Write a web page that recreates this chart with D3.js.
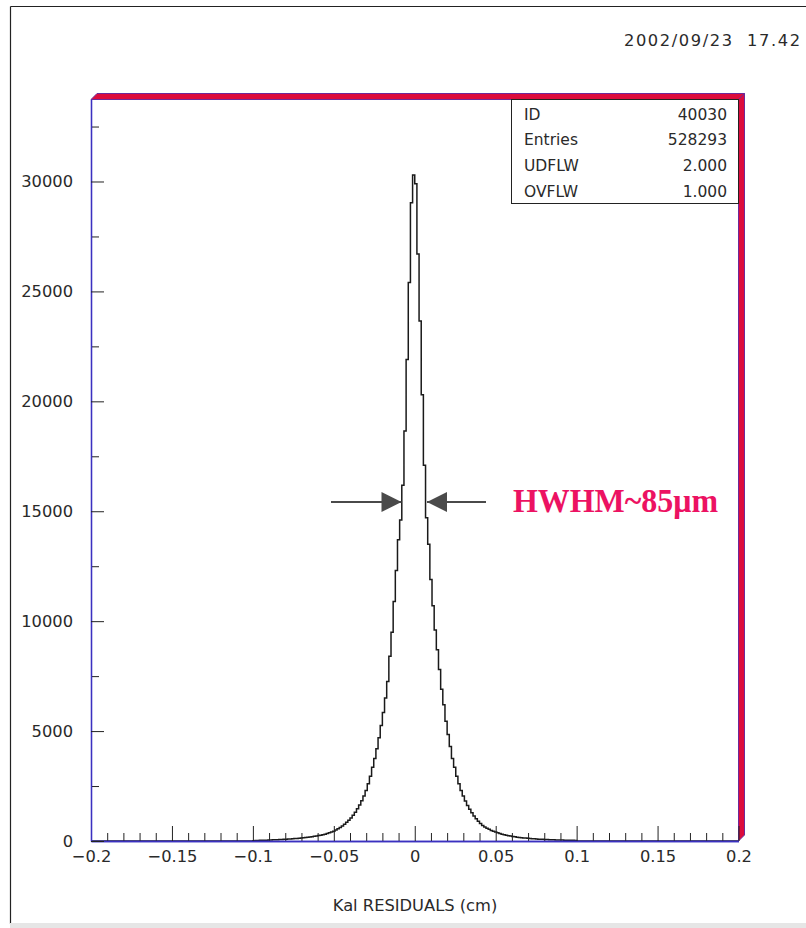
<!DOCTYPE html>
<html>
<head>
<meta charset="utf-8">
<script src="https://cdn.jsdelivr.net/npm/d3@7"></script>
<style>
  html, body { margin: 0; padding: 0; background: #fff; }
  svg { display: block; }
  .lbl { font-family: "DejaVu Sans", "Liberation Sans", sans-serif; fill: #2a2a2a; }
</style>
</head>
<body>
<svg id="chart" width="806" height="928"></svg>
<script>
// Histogram 40030: Kalman-fit residuals, 300 bins over [-0.2, 0.2] cm.
// Counts below are the filled bins from -0.1 to +0.1 cm; the rest are empty.
const xDomain = [-0.2, 0.2];
const binWidth = 0.4 / 300;
const firstEdge = -0.1;

// bins left of zero, from -0.1 cm up to 0
const countsLeft = [
  16, 21, 23, 29, 31, 37, 39, 45, 47, 53, 55, 61, 64, 71, 75,
  83, 87, 96, 101, 111, 117, 126, 139, 148, 162, 171, 186, 197, 213, 227,
  247, 265, 289, 311, 342, 373, 412, 446, 498, 552, 610, 680, 760, 850, 940,
  1050, 1170, 1310, 1470, 1640, 1830, 2050, 2300, 2600, 2950, 3350, 3750, 4200, 4700, 5250,
  5850, 6500, 7250, 8400, 9500, 10900, 12300, 13700, 14600, 16180, 18650, 21900, 25400, 29030, 30300
];
// bins right of zero, from 0 up to +0.1 cm
const countsRight = [
  29900, 26700, 23650, 20300, 17090, 14700, 13500, 11900, 10700, 9600, 8700, 7800, 6900, 6200, 5450,
  4850, 4300, 3750, 3350, 2950, 2600, 2300, 2050, 1820, 1620, 1440, 1280, 1140, 1010, 900,
  800, 710, 640, 580, 530, 480, 440, 405, 370, 340, 310, 285, 262, 240, 222,
  205, 190, 176, 163, 152, 141, 131, 122, 113, 105, 98, 91, 85, 79, 74,
  69, 64, 60, 56, 52, 49, 46, 43, 40, 37, 35, 33, 31, 29, 27
];

const xMajorTicks = [-0.2, -0.15, -0.1, -0.05, 0, 0.05, 0.1, 0.15, 0.2];
const xTickLabels = ["\u22120.2", "\u22120.15", "\u22120.1", "\u22120.05", "0", "0.05", "0.1", "0.15", "0.2"];
const yMajorTicks = [0, 5000, 10000, 15000, 20000, 25000, 30000];
const yTickLabels = ["0", "5000", "10000", "15000", "20000", "25000", "30000"];
const yMax = 33730;

const statLabels = ["ID", "Entries", "UDFLW", "OVFLW"];
const statValues = ["40030", "528293", "2.000", "1.000"];

const dateText = "2002/09/23  17.42";
const xTitle = "Kal RESIDUALS (cm)";
const noteText = "HWHM~85\u03bcm";
const hwhm = 0.0085;   // cm

const svg = d3.select("#chart");
const fontSize = 16.3;

// page frame
svg.append("line").attr("x1", 10.5).attr("x2", 806).attr("y1", 6.5).attr("y2", 6.5)
  .attr("stroke", "#222").attr("stroke-width", 1.2);
svg.append("line").attr("x1", 10.5).attr("x2", 10.5).attr("y1", 6.5).attr("y2", 924)
  .attr("stroke", "#222").attr("stroke-width", 1.2);
svg.append("rect").attr("x", 10).attr("y", 923).attr("width", 796).attr("height", 5)
  .attr("fill", "#e6e6e6");

const x = d3.scaleLinear().domain(xDomain).range([91, 738.5]);
const y = d3.scaleLinear().domain([0, yMax]).range([841, 99.5]);

// histogram outline
const counts = countsLeft.concat(countsRight);
const pts = [[xDomain[0], 0]];
counts.forEach((c, i) => pts.push([firstEdge + i * binWidth, c]));
pts.push([firstEdge + counts.length * binWidth, 0]);
pts.push([xDomain[1], 0]);
const line = d3.line().x(d => x(d[0])).y(d => y(d[1])).curve(d3.curveStepAfter);
svg.append("path").attr("d", line(pts)).attr("fill", "none")
  .attr("stroke", "#1a1a1a").attr("stroke-width", 1.5);

// 3D frame faces: top and right
const depth = 6;
const fx0 = x(xDomain[0]), fx1 = x(xDomain[1]), fy0 = y(yMax), fy1 = y(0);
svg.append("polygon")
  .attr("points", [[fx0, fy0], [fx0 + depth, fy0 - depth], [fx1 + depth, fy0 - depth], [fx1, fy0]].join(" "))
  .attr("fill", "#dc0b3c").attr("stroke", "#6b2a9a").attr("stroke-width", 1);
svg.append("polygon")
  .attr("points", [[fx1, fy0], [fx1 + depth, fy0 - depth], [fx1 + depth, fy1 - depth], [fx1, fy1]].join(" "))
  .attr("fill", "#dc0b3c").attr("stroke", "#6b2a9a").attr("stroke-width", 1);

// axes
const axisColor = "#3b30c0";
const xMinor = d3.range(-20, 21).map(i => i / 100).filter(v => Math.abs(Math.round(v * 20) - v * 20) > 1e-6);
const yMinor = d3.range(1, 14, 2).map(i => i * 2500);

const gxMinor = svg.append("g").attr("transform", `translate(0,${fy1})`)
  .call(d3.axisBottom(x).tickValues(xMinor).tickSizeInner(-8).tickSizeOuter(0).tickFormat(""));
const gx = svg.append("g").attr("transform", `translate(0,${fy1})`)
  .call(d3.axisBottom(x).tickValues(xMajorTicks).tickSizeInner(-15).tickSizeOuter(0)
    .tickFormat((d, i) => xTickLabels[i]));
const gyMinor = svg.append("g").attr("transform", `translate(${fx0},0)`)
  .call(d3.axisLeft(y).tickValues(yMinor).tickSizeInner(-8).tickSizeOuter(0).tickFormat(""));
const gy = svg.append("g").attr("transform", `translate(${fx0},0)`)
  .call(d3.axisLeft(y).tickValues(yMajorTicks).tickSizeInner(-13).tickSizeOuter(0)
    .tickPadding(18).tickFormat((d, i) => yTickLabels[i]));

[gxMinor, gx, gyMinor, gy].forEach(g => {
  g.select(".domain").attr("stroke", axisColor).attr("stroke-width", 1.3);
  g.selectAll(".tick line").attr("stroke", "#222").attr("stroke-width", 1);
});
gx.selectAll(".tick text").attr("class", "lbl").attr("font-size", fontSize)
  .attr("y", 15).attr("dy", "0.35em");
gy.selectAll(".tick text").attr("class", "lbl").attr("font-size", fontSize);

// statistics box
const bx0 = 511.5, bx1 = 738.5, by0 = 99.5, by1 = 203.5;
svg.append("rect").attr("x", bx0).attr("y", by0).attr("width", bx1 - bx0).attr("height", by1 - by0)
  .attr("fill", "#fff").attr("stroke", "#222").attr("stroke-width", 1);
const rowY = d3.scalePoint().domain(statLabels).range([114, 191]);
statLabels.forEach((s, i) => {
  svg.append("text").attr("class", "lbl").attr("x", 524).attr("y", rowY(s)).attr("dy", "0.36em")
    .attr("font-size", 15.5).text(s);
  svg.append("text").attr("class", "lbl").attr("x", 727).attr("y", rowY(s)).attr("dy", "0.36em")
    .attr("font-size", 15.5).attr("text-anchor", "end").text(statValues[i]);
});

// date stamp
svg.append("text").attr("class", "lbl").attr("x", 624).attr("y", 46)
  .attr("font-size", fontSize).attr("textLength", 176).attr("lengthAdjust", "spacing")
  .attr("xml:space", "preserve").style("white-space", "pre").text(dateText);

// x-axis title
svg.append("text").attr("class", "lbl").attr("x", 415).attr("y", 905).attr("dy", "0.35em")
  .attr("text-anchor", "middle").attr("font-size", fontSize).text(xTitle);

// HWHM markers
const halfY = 502;
const arrowColor = "#4a4a4a";
const defs = svg.append("defs");
defs.append("marker").attr("id", "head").attr("viewBox", "0 0 20 20").attr("refX", 20).attr("refY", 10)
  .attr("markerWidth", 20).attr("markerHeight", 20).attr("markerUnits", "userSpaceOnUse").attr("orient", "auto")
  .append("path").attr("d", "M0,0 L20,10 L0,20 Z").attr("fill", arrowColor);
svg.append("line").attr("x1", 331).attr("x2", x(-hwhm) + 0.5).attr("y1", halfY).attr("y2", halfY)
  .attr("stroke", arrowColor).attr("stroke-width", 2).attr("marker-end", "url(#head)");
svg.append("line").attr("x1", 486).attr("x2", x(hwhm) - 1.5).attr("y1", halfY).attr("y2", halfY)
  .attr("stroke", arrowColor).attr("stroke-width", 2).attr("marker-end", "url(#head)");
svg.append("text").attr("x", 513).attr("y", 512)
  .attr("font-family", "'Liberation Serif', 'Times New Roman', serif").attr("font-weight", "bold")
  .attr("font-size", 33).attr("fill", "#ec1262").attr("textLength", 205).attr("lengthAdjust", "spacingAndGlyphs")
  .text(noteText);
</script>
</body>
</html>
